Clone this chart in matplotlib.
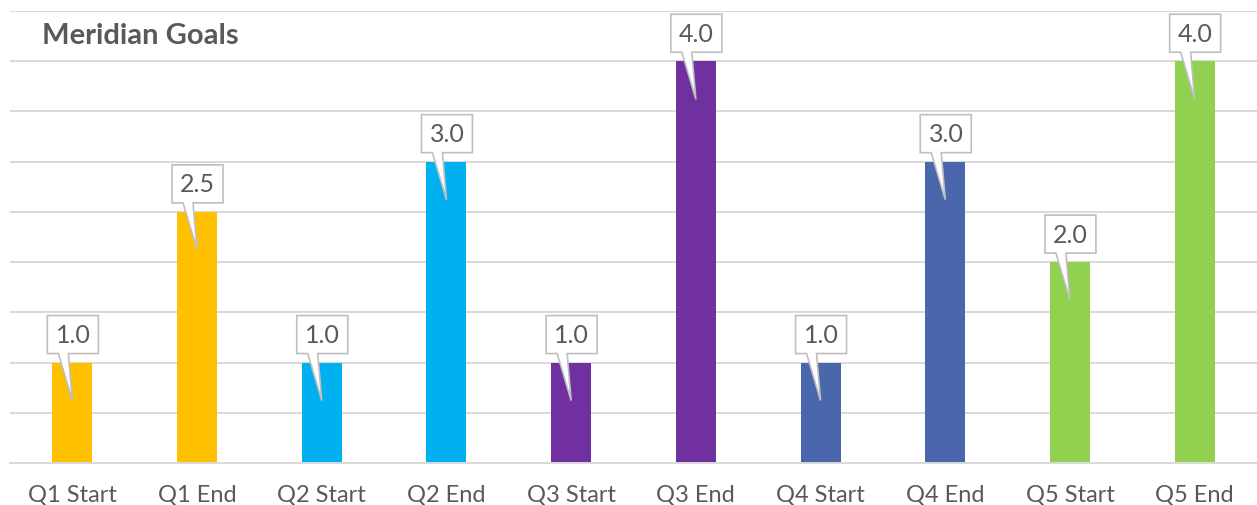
import matplotlib
matplotlib.use("Agg")
import matplotlib.pyplot as plt
import matplotlib.transforms as mtransforms
from matplotlib.path import Path
from matplotlib.patches import PathPatch

categories = ["Q1 Start", "Q1 End", "Q2 Start", "Q2 End", "Q3 Start",
              "Q3 End", "Q4 Start", "Q4 End", "Q5 Start", "Q5 End"]
values = [1.0, 2.5, 1.0, 3.0, 1.0, 4.0, 1.0, 3.0, 2.0, 4.0]
colors = ["#FFC000", "#FFC000", "#00B0F0", "#00B0F0", "#7030A0",
          "#7030A0", "#4A66AC", "#4A66AC", "#92D050", "#92D050"]
title = "Meridian Goals"

plt.rcParams["font.family"] = ["Lato", "DejaVu Sans"]
text_color = "#595959"
grid_color = "#D9D9D9"

W, H, DPI = 1257, 506, 100
fig = plt.figure(figsize=(W / DPI, H / DPI), dpi=DPI)
ax = fig.add_axes([10 / W, 1 - 464 / H, 1 - 10 / W, (464 - 12) / H])

x = list(range(len(categories)))
ax.bar(x, values, width=0.32, color=colors, zorder=2)

ax.set_xlim(-0.5, len(categories) - 0.5)
ax.set_ylim(0, 4.5)
ax.set_yticks([i * 0.5 for i in range(10)])
ax.set_yticklabels([])
ax.yaxis.grid(True, color=grid_color, linewidth=1.4, zorder=0)
ax.set_axisbelow(True)
ax.tick_params(axis="y", length=0)
ax.tick_params(axis="x", length=0, pad=15, labelsize=17, labelcolor=text_color)
ax.set_xticks(x)
ax.set_xticklabels(categories)
for s in ["left", "right", "top"]:
    ax.spines[s].set_visible(False)
ax.spines["bottom"].set_color(grid_color)
ax.spines["bottom"].set_linewidth(1.4)

# callout shape in pixels relative to the top centre of each bar
verts = [(-25, 9), (-14, 9), (0, -38), (-4, 9), (26, 9), (26, 47), (-25, 47), (-25, 9)]
codes = [Path.MOVETO] + [Path.LINETO] * (len(verts) - 2) + [Path.CLOSEPOLY]
shape = Path(verts, codes)

for xi, v in zip(x, values):
    trans = mtransforms.Affine2D() + mtransforms.ScaledTranslation(xi, v, ax.transData)
    patch = PathPatch(shape, transform=trans, facecolor="white",
                      edgecolor="#BFBFBF", linewidth=1.2, zorder=3, clip_on=False)
    ax.add_patch(patch)
    ax.annotate(f"{v:.1f}", xy=(xi, v), xytext=(0.5, 28 * 72 / DPI),
                textcoords="offset points", ha="center", va="center",
                fontsize=18, color=text_color, zorder=4)

fig.text(42 / W, 1 - 36 / H, title, ha="left", va="center",
         fontsize=21, fontweight="bold", color=text_color)

fig.savefig("out.png", dpi=DPI)
